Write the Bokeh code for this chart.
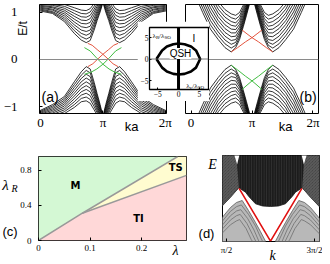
import math
from bokeh.plotting import figure
from bokeh.models import Range1d, Label, Span, FixedTicker
from bokeh.embed import file_html
from bokeh.resources import INLINE

PI = math.pi
TWO_PI = 2 * math.pi

# ---------------- data ----------------
# (a) bulk bands, read on k in [0, pi] (the spectrum is symmetric about k = 0 and k = pi)
K_HALF_A = [0.0, 0.6, 1.2, 1.7, 2.05, 2.3, 2.5, 2.7, 2.85, 3.0, PI]
BANDS_A_UP = [
    [1.02, 0.97, 0.80, 0.55, 0.41, 0.355, 0.40, 0.62, 0.82, 1.00, 1.20],
    [1.04, 0.99, 0.84, 0.61, 0.48, 0.43, 0.47, 0.68, 0.87, 1.04, 1.22],
    [1.06, 1.01, 0.88, 0.67, 0.55, 0.51, 0.55, 0.74, 0.92, 1.08, 1.24],
    [1.08, 1.04, 0.92, 0.73, 0.62, 0.59, 0.62, 0.80, 0.97, 1.12, 1.26],
    [1.10, 1.06, 0.96, 0.79, 0.69, 0.67, 0.70, 0.87, 1.02, 1.16, 1.28],
    [1.12, 1.09, 1.00, 0.85, 0.76, 0.75, 0.78, 0.94, 1.07, 1.20, 1.30],
    [1.14, 1.11, 1.04, 0.91, 0.83, 0.82, 0.86, 1.00, 1.12, 1.24, 1.32],
    [1.16, 1.14, 1.08, 0.97, 0.90, 0.89, 0.93, 1.06, 1.17, 1.28, 1.34],
    [1.18, 1.16, 1.12, 1.03, 0.97, 0.96, 1.00, 1.12, 1.22, 1.32, 1.36],
    [1.20, 1.19, 1.16, 1.09, 1.04, 1.03, 1.07, 1.18, 1.27, 1.36, 1.38],
]
BANDS_A_DN = [
    [-1.07, -0.95, -0.78, -0.47, -0.26, -0.15, -0.20, -0.48, -0.72, -0.95, -1.20],
    [-1.09, -0.98, -0.82, -0.53, -0.33, -0.23, -0.28, -0.54, -0.77, -0.99, -1.22],
    [-1.11, -1.01, -0.86, -0.59, -0.40, -0.31, -0.36, -0.60, -0.82, -1.03, -1.24],
    [-1.13, -1.04, -0.90, -0.65, -0.47, -0.39, -0.44, -0.66, -0.87, -1.07, -1.26],
    [-1.15, -1.07, -0.94, -0.71, -0.54, -0.47, -0.52, -0.72, -0.92, -1.11, -1.28],
    [-1.17, -1.10, -0.98, -0.77, -0.61, -0.55, -0.60, -0.78, -0.97, -1.15, -1.30],
    [-1.19, -1.13, -1.02, -0.83, -0.68, -0.63, -0.68, -0.85, -1.02, -1.19, -1.32],
    [-1.21, -1.16, -1.06, -0.89, -0.75, -0.71, -0.76, -0.92, -1.07, -1.23, -1.34],
    [-1.23, -1.19, -1.10, -0.95, -0.82, -0.79, -0.84, -0.99, -1.12, -1.27, -1.36],
    [-1.25, -1.22, -1.14, -1.01, -0.89, -0.87, -0.92, -1.06, -1.17, -1.31, -1.38],
]
EDGE_A_RED_K = [2.38, 2.6, 2.85, PI, 3.4, 3.65, 3.9]
EDGE_A_RED_E = [0.34, 0.30, 0.21, 0.11, 0.01, -0.09, -0.15]
EDGE_A_GREEN_K = [2.21, 2.5, 2.85, PI, 3.45, 3.75, 4.07]
EDGE_A_GREEN_E = [0.25, 0.18, 0.02, -0.10, -0.20, -0.27, -0.31]

# (b) bulk bands
K_HALF_B = [0.0, 0.3, 0.6, 1.0, 1.4, 1.75, 2.07, 2.3, 2.5, 2.7, 2.85, 3.0, PI]
BANDS_B_UP = [
    [1.60, 1.27, 0.99, 0.64, 0.42, 0.25, 0.16, 0.25, 0.42, 0.70, 0.92, 1.15, 1.35],
    [1.70, 1.37, 1.08, 0.73, 0.50, 0.33, 0.24, 0.30, 0.47, 0.74, 0.96, 1.18, 1.36],
    [1.80, 1.47, 1.17, 0.82, 0.58, 0.41, 0.32, 0.36, 0.52, 0.78, 1.00, 1.21, 1.37],
    [1.90, 1.57, 1.26, 0.91, 0.66, 0.49, 0.40, 0.42, 0.57, 0.82, 1.03, 1.24, 1.38],
    [2.00, 1.67, 1.35, 1.00, 0.74, 0.57, 0.48, 0.49, 0.62, 0.86, 1.06, 1.27, 1.39],
    [2.10, 1.77, 1.44, 1.09, 0.82, 0.65, 0.56, 0.56, 0.68, 0.90, 1.09, 1.30, 1.40],
    [2.20, 1.87, 1.53, 1.18, 0.90, 0.73, 0.64, 0.63, 0.74, 0.95, 1.12, 1.33, 1.41],
    [2.30, 1.97, 1.62, 1.27, 0.98, 0.81, 0.72, 0.70, 0.80, 1.00, 1.16, 1.36, 1.42],
    [2.40, 2.07, 1.71, 1.36, 1.06, 0.89, 0.80, 0.77, 0.86, 1.05, 1.20, 1.39, 1.43],
    [2.50, 2.17, 1.80, 1.45, 1.14, 0.97, 0.88, 0.85, 0.92, 1.10, 1.24, 1.42, 1.44],
    [2.60, 2.27, 1.89, 1.54, 1.22, 1.05, 0.96, 0.93, 0.99, 1.15, 1.28, 1.45, 1.45],
]
BANDS_B_DN = [
    [-1.56, -1.23, -0.95, -0.60, -0.38, -0.21, -0.12, -0.21, -0.38, -0.66, -0.88, -1.11, -1.31],
    [-1.66, -1.33, -1.04, -0.69, -0.46, -0.29, -0.20, -0.26, -0.43, -0.70, -0.92, -1.14, -1.32],
    [-1.76, -1.43, -1.13, -0.78, -0.54, -0.37, -0.28, -0.32, -0.48, -0.74, -0.96, -1.17, -1.33],
    [-1.86, -1.53, -1.22, -0.87, -0.62, -0.45, -0.36, -0.38, -0.53, -0.78, -0.99, -1.20, -1.34],
    [-1.96, -1.63, -1.31, -0.96, -0.70, -0.53, -0.44, -0.45, -0.58, -0.82, -1.02, -1.23, -1.35],
    [-2.06, -1.73, -1.40, -1.05, -0.78, -0.61, -0.52, -0.52, -0.64, -0.86, -1.05, -1.26, -1.36],
    [-2.16, -1.83, -1.49, -1.14, -0.86, -0.69, -0.60, -0.59, -0.70, -0.91, -1.08, -1.29, -1.37],
    [-2.26, -1.93, -1.58, -1.23, -0.94, -0.77, -0.68, -0.66, -0.76, -0.96, -1.12, -1.32, -1.38],
    [-2.36, -2.03, -1.67, -1.32, -1.02, -0.85, -0.76, -0.73, -0.82, -1.01, -1.16, -1.35, -1.39],
    [-2.46, -2.13, -1.76, -1.41, -1.10, -0.93, -0.84, -0.81, -0.88, -1.06, -1.20, -1.38, -1.40],
    [-2.56, -2.23, -1.85, -1.50, -1.18, -1.01, -0.92, -0.89, -0.95, -1.11, -1.24, -1.41, -1.41],
]
EDGE_B_K = [2.07, 2.4, 2.8, PI, 3.4, 3.65]
EDGE_B_RED_E = [0.16, 0.25, 0.37, 0.46, 0.54, 0.62]
EDGE_B_GREEN_E = [-0.12, -0.22, -0.35, -0.45, -0.54, -0.63]

# inset phase diagram (lambda_v / lambda_SO , lambda_R / lambda_SO)
LENS_X = [-5.3, -3.95, -2.8, -1.25, 0.0, 1.45, 3.0, 4.2, 5.2]
LENS_Y_TOP = [0.0, 2.0, 2.9, 3.45, 3.6, 3.45, 2.9, 2.0, 0.0]
INSET_TICKS = [-5, 0, 5]
INSET_TICK_LABELS = ["\u22125", "0", "5"]

# (c) phase diagram boundaries
C_MTS_X = [0.0, 0.085, 0.27]
C_MTS_Y = [0.0, 0.31, 0.955]
C_TSTI_X = [0.085, 0.287]
C_TSTI_Y = [0.31, 0.74]
C_XTICKS = [0, 0.1, 0.2]
C_XLABELS = ["0", "0.1", "0.2"]
C_YTICKS = [0, 0.4, 0.8]
C_YLABELS = ["0", "0.4", "0.8"]

# (d) spectrum, left half (symmetric about k = pi)
D_EDGE_K = [1.38, 1.713, 2.01, 2.249, 2.366, 2.606, 2.856, PI]
D_EDGE_E = [-0.20, 0.03, 0.249, 0.147, 0.047, -0.123, -0.174, -0.186]
D_SIDE_K = [1.38, 1.713, 2.01, 1.95, 1.83, 1.38]
D_SIDE_E = [-0.20, 0.03, 0.249, 0.79, 1.05, 1.05]
D_NOTCH_K = [1.83, 1.95, 2.045]
D_NOTCH_E = [1.05, 0.79, 1.05]
D_HUMP_K = [1.38, 1.713, 1.927, 2.131, 2.356, 2.606, 2.784, 2.963]
D_HUMP_E = [-0.47, -0.21, -0.093, -0.047, -0.28, -0.56, -0.77, -0.993]
D_HUMP_INNER_K = [
    [1.38, 1.713, 1.927, 2.10, 2.356, 2.606, 2.75, 2.86],
    [1.38, 1.713, 1.927, 2.08, 2.33, 2.55, 2.73],
    [1.38, 1.713, 1.927, 2.06, 2.30, 2.50, 2.62],
    [1.38, 1.713, 1.927, 2.04, 2.27, 2.45, 2.50],
]
D_HUMP_INNER_E = [
    [-0.56, -0.30, -0.19, -0.15, -0.37, -0.64, -0.85, -1.0],
    [-0.65, -0.40, -0.29, -0.26, -0.47, -0.73, -1.0],
    [-0.74, -0.50, -0.40, -0.37, -0.58, -0.84, -1.0],
    [-0.83, -0.61, -0.52, -0.49, -0.70, -0.95, -1.0],
]
D_RED_K = [2.02, PI, TWO_PI - 2.02]
D_RED_E = [0.235, -0.99, 0.235]

# ---------------- helpers ----------------
SERIF = "Liberation Serif"
SANS = "Liberation Sans"
BOLD_SANS = "DejaVu Sans"
RED = "#e4553f"
GREEN = "#42bd42"


def full_curve(k_half, e_half):
    """Extend a branch read on [0, pi] by the symmetries E(-k)=E(k), E(2pi-k)=E(k)."""
    kr = list(k_half[::-1])
    er = list(e_half[::-1])
    ks = [-k for k in kr] + list(k_half[1:]) + [TWO_PI - k for k in kr[1:]] + [TWO_PI + k for k in k_half[1:]]
    es = er + list(e_half[1:]) + er[1:] + list(e_half[1:])
    return ks, es


def mirror_about_pi(ks, es):
    return [TWO_PI - k for k in ks], list(es)


def make_fig(w, h, xr, yr, bl, br, bt, bb, xaxis=True, yaxis=True):
    p = figure(width=w, height=h, x_range=Range1d(*xr), y_range=Range1d(*yr),
               output_backend="svg", toolbar_location=None,
               x_axis_location="below" if xaxis else None,
               y_axis_location="left" if yaxis else None,
               min_border_left=bl, min_border_right=br,
               min_border_top=bt, min_border_bottom=bb)
    p.grid.visible = False
    p.outline_line_color = "black"
    p.outline_line_width = 1
    p.background_fill_color = "white"
    p.border_fill_color = "white"
    return p


def style_axis(ax, ticks, labels, size, standoff, tick_in=3, font=SERIF):
    ax.ticker = FixedTicker(ticks=ticks)
    ax.major_label_overrides = {t: l for t, l in zip(ticks, labels)}
    ax.major_label_text_font = font
    ax.major_label_text_font_size = size
    ax.major_label_text_color = "black"
    ax.major_label_standoff = standoff
    ax.major_tick_in = tick_in
    ax.major_tick_out = 0
    ax.major_tick_line_color = "black"
    ax.minor_tick_line_color = None
    ax.axis_line_color = None


def add_text(p, x, y, text, size, font=SANS, style="normal", align="center",
             baseline="middle", angle=0.0, bg=None):
    lab = Label(x=x, y=y, text=text, text_font=font, text_font_size=f"{size}px",
                text_font_style=style, text_align=align, text_baseline=baseline,
                angle=angle, text_color="black")
    if bg is not None:
        lab.background_fill_color = bg
    p.add_layout(lab)


def band_lines(p, k_half, bands, width=0.8):
    xs, ys = [], []
    for e in bands:
        k, en = full_curve(k_half, e)
        xs.append(k)
        ys.append(en)
    p.multi_line(xs=xs, ys=ys, line_color="black", line_width=width)


# ---------------- panel (a) ----------------
pa = make_fig(172, 134, (-0.05, 6.34), (-1.137, 1.158), 37, 6, 4, 21)
band_lines(pa, K_HALF_A, BANDS_A_UP)
band_lines(pa, K_HALF_A, BANDS_A_DN)
pa.add_layout(Span(location=0, dimension="width", line_color="#8a8a8a", line_width=1.2))
for kk, ee, col in [(EDGE_A_RED_K, EDGE_A_RED_E, RED), (EDGE_A_GREEN_K, EDGE_A_GREEN_E, GREEN)]:
    mk, me = mirror_about_pi(kk, ee)
    pa.multi_line(xs=[kk, mk], ys=[ee, me], line_color=col, line_width=1.0)
style_axis(pa.xaxis[0], [0, PI, TWO_PI], ["0", "\u03c0", "2\u03c0"], "13px", 1)
style_axis(pa.yaxis[0], [-1, 0, 1], ["\u22121", "0", "1"], "13px", 22)
add_text(pa, 0.05, -0.80, "(a)", 14, align="left")

# ---------------- panel (b) ----------------
pb = make_fig(139, 134, (-0.286, 6.569), (-1.137, 1.158), 2, 4, 4, 21, yaxis=False)
band_lines(pb, K_HALF_B, BANDS_B_UP)
band_lines(pb, K_HALF_B, BANDS_B_DN)
pb.add_layout(Span(location=0, dimension="width", line_color="#8a8a8a", line_width=1.2))
for ee, col in [(EDGE_B_RED_E, RED), (EDGE_B_GREEN_E, GREEN)]:
    mk, me = mirror_about_pi(EDGE_B_K, ee)
    pb.multi_line(xs=[EDGE_B_K, mk], ys=[ee, me], line_color=col, line_width=1.0)
style_axis(pb.xaxis[0], [0, PI, TWO_PI], ["0", "\u03c0", "2\u03c0"], "13px", 1)
add_text(pb, 6.47, -0.78, "(b)", 14, align="right")

# ---------------- inset ----------------
pin = make_fig(72, 80, (-6.98, 7.21), (-7.09, 7.33), 10, 1, 6, 12)
pin.outline_line_width = 1.3
pin.add_layout(Span(location=0, dimension="width", line_color="#555555", line_width=0.8))
pin.add_layout(Span(location=0, dimension="height", line_color="black", line_width=3))
lens_x = LENS_X + LENS_X[::-1][1:]
lens_y = LENS_Y_TOP + [-v for v in LENS_Y_TOP[::-1][1:]]
pin.line(lens_x, lens_y, line_color="black", line_width=2.6, line_join="round")
style_axis(pin.xaxis[0], INSET_TICKS, INSET_TICK_LABELS, "7.5px", 1, tick_in=2)
style_axis(pin.yaxis[0], INSET_TICKS, INSET_TICK_LABELS, "7.5px", 1, tick_in=2)
add_text(pin, -6.28, 5.35, "\u03bb", 7, font=SERIF, align="left", baseline="alphabetic")
add_text(pin, -5.44, 5.0, "R", 5, font=SERIF, align="left", baseline="alphabetic")
add_text(pin, -4.67, 5.35, "/\u03bb", 7, font=SERIF, align="left", baseline="alphabetic")
add_text(pin, -3.40, 5.0, "SO", 5, font=SERIF, align="left", baseline="alphabetic")
add_text(pin, 1.86, -6.28, "\u03bb", 7, font=SERIF, align="left", baseline="alphabetic")
add_text(pin, 2.67, -6.63, "v", 5, font=SERIF, align="left", baseline="alphabetic")
add_text(pin, 3.30, -6.28, "/\u03bb", 7, font=SERIF, align="left", baseline="alphabetic")
add_text(pin, 4.60, -6.63, "SO", 5, font=SERIF, align="left", baseline="alphabetic")
add_text(pin, 3.72, 4.77, "I", 10)
add_text(pin, 0.47, 1.28, "QSH", 10, bg="white")

# ---------------- panel (c) ----------------
C_XR = (0.0, 0.287)
C_YR = (0.0, 0.955)
pc = make_fig(190, 120, C_XR, C_YR, 38, 4, 16, 20)
m_x = C_MTS_X + [C_XR[0]]
m_y = C_MTS_Y + [C_YR[1]]
ts_x = C_MTS_X[1:] + [C_XR[1]] + C_TSTI_X[::-1][:1]
ts_y = C_MTS_Y[1:] + [C_YR[1]] + C_TSTI_Y[::-1][:1]
ti_x = C_MTS_X[:1] + C_TSTI_X + [C_XR[1]]
ti_y = C_MTS_Y[:1] + C_TSTI_Y + [C_YR[0]]
pc.patch(m_x, m_y, fill_color="#d4f8d4", line_color=None)
pc.patch(ts_x, ts_y, fill_color="#fffcd0", line_color=None)
pc.patch(ti_x, ti_y, fill_color="#ffd8d8", line_color=None)
pc.line(C_MTS_X, C_MTS_Y, line_color="#999999", line_width=1.5)
pc.line(C_TSTI_X, C_TSTI_Y, line_color="#999999", line_width=1.5)
style_axis(pc.xaxis[0], C_XTICKS, C_XLABELS, "9px", 4)
style_axis(pc.yaxis[0], C_YTICKS, C_YLABELS, "9px", 7)
add_text(pc, 0.0718, 0.623, "M", 10, font=BOLD_SANS, style="bold")
add_text(pc, 0.194, 0.251, "TI", 10, font=BOLD_SANS, style="bold")
add_text(pc, 0.266, 0.829, "TS", 10, font=BOLD_SANS, style="bold")

# ---------------- panel (d) ----------------
pd = make_fig(130, 112, (1.4273, 4.8916), (-1.0, 1.0), 30, 3, 5, 21, yaxis=False)
mk, me = mirror_about_pi(D_EDGE_K[:-1][::-1], D_EDGE_E[:-1][::-1])
up_x = D_EDGE_K + mk + [mk[-1], D_EDGE_K[0]]
up_y = D_EDGE_E + me + [1.05, 1.05]
pd.patch(up_x, up_y, fill_color="#1c1c1c", line_color="#1a1a1a", line_width=0.8,
         hatch_pattern="vertical_line", hatch_color="#9a9a9a", hatch_alpha=0.35,
         hatch_scale=2.5, hatch_weight=0.5)
sk, se = mirror_about_pi(D_SIDE_K, D_SIDE_E)
pd.patches([D_SIDE_K, sk], [D_SIDE_E, se], fill_color="#3c3c3c", line_color=None,
           hatch_pattern="left_diagonal_line", hatch_color="#d0d0d0", hatch_alpha=0.45,
           hatch_scale=3, hatch_weight=0.6)
nk, ne = mirror_about_pi(D_NOTCH_K, D_NOTCH_E)
pd.patches([D_NOTCH_K, nk], [D_NOTCH_E, ne], fill_color="white", line_color=None)
hk, he = mirror_about_pi(D_HUMP_K, D_HUMP_E)
hump_y = D_HUMP_E + [-1.05, -1.05]
pd.patches([D_HUMP_K + [D_HUMP_K[-1], D_HUMP_K[0]], hk + [hk[-1], hk[0]]],
           [hump_y, hump_y], fill_color="#b8b8b8", line_color="#5a5a5a", line_width=0.8)
inner_xs, inner_ys = [], []
for kk, ee in zip(D_HUMP_INNER_K, D_HUMP_INNER_E):
    inner_xs.append(kk)
    inner_ys.append(ee)
    m1, m2 = mirror_about_pi(kk, ee)
    inner_xs.append(m1)
    inner_ys.append(m2)
pd.multi_line(inner_xs, inner_ys, line_color="#6e6e6e", line_width=0.8)
pd.line(D_RED_K, D_RED_E, line_color="#e01010", line_width=1.6)
style_axis(pd.xaxis[0], [PI / 2, 3 * PI / 2], ["\u03c0/2", "3\u03c0/2"], "9px", 3)

# ---------------- text layer for labels that sit outside the panels' frames ----------------
# (a transparent figure whose range is the page in pixels, y downwards)
pt = figure(width=330, height=264, x_range=Range1d(0, 330), y_range=Range1d(264, 0),
            output_backend="svg", toolbar_location=None,
            x_axis_location=None, y_axis_location=None,
            min_border_left=0, min_border_right=0, min_border_top=0, min_border_bottom=0)
pt.grid.visible = False
pt.outline_line_color = None
pt.background_fill_alpha = 0
pt.border_fill_alpha = 0
add_text(pt, 22, 28, "E/t", 12, angle=PI / 2)
add_text(pt, 131, 126, "ka", 13, baseline="alphabetic")
add_text(pt, 285, 126, "ka", 13, baseline="alphabetic")
add_text(pt, 5, 184.5, "\u03bb", 15, font=SERIF, style="italic")
add_text(pt, 14, 188, "R", 10, font=SERIF, style="italic")
add_text(pt, 2, 231, "(c)", 13, align="left")
add_text(pt, 175, 249.5, "\u03bb", 14, font=SERIF, style="italic")
add_text(pt, 212, 164, "E", 14, font=SERIF, style="italic")
add_text(pt, 206, 233, "(d)", 13)
add_text(pt, 272, 255, "k", 14, font=SERIF, style="italic")

# ---------------- page layout: every panel placed at its own spot ----------------
placements = [(pa, 0, 0, 172, 134), (pb, 183, 0, 139, 134), (pin, 137, 21, 72, 80),
              (pc, 0, 140, 190, 120), (pd, 192, 150, 130, 112), (pt, 0, 0, 330, 264)]
for fig, X, Y, W, H in placements:
    fig.styles = {"position": "absolute", "left": f"{X}px", "top": f"{Y}px",
                  "width": f"{W}px", "height": f"{H}px"}

p = [pa, pb, pin, pc, pd, pt]
open("out.html", "w").write(file_html(p, INLINE))
